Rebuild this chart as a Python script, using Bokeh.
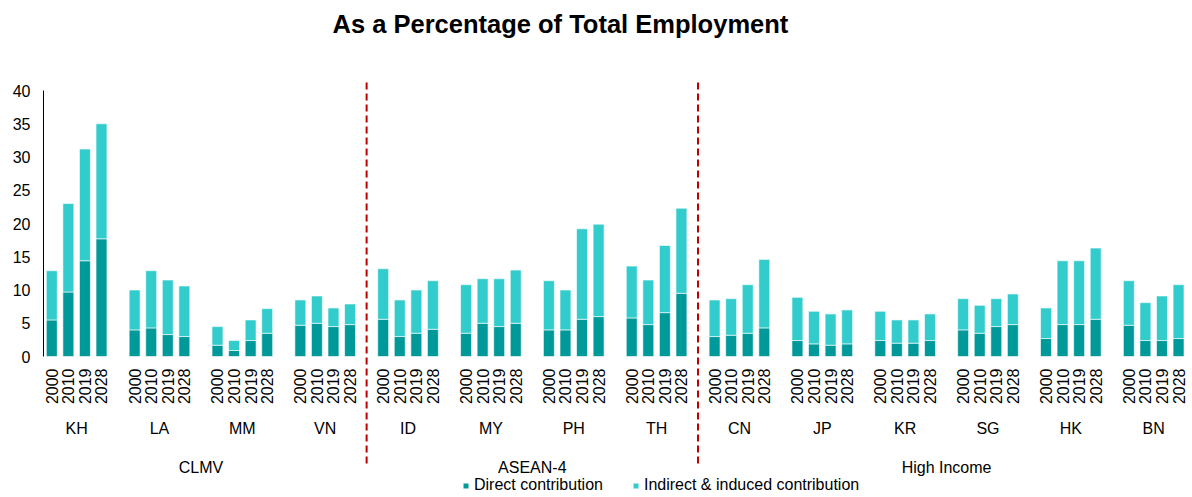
import math
from bokeh.plotting import figure
from bokeh.models import (ColumnDataSource, FixedTicker, Range1d, Legend, Title)
from bokeh.core.properties import value
from bokeh.embed import file_html
from bokeh.resources import INLINE

# ---------------- data ----------------
years = ["2000", "2010", "2019", "2028"]
countries = ["KH", "LA", "MM", "VN", "ID", "MY", "PH", "TH",
             "CN", "JP", "KR", "SG", "HK", "BN"]
groups = ["CLMV", "ASEAN-4", "High Income"]
group_members = [["KH", "LA", "MM", "VN"],
                 ["ID", "MY", "PH", "TH"],
                 ["CN", "JP", "KR", "SG", "HK", "BN"]]

direct = {
    "KH": [5.5, 9.7, 14.4, 17.7],
    "LA": [4.0, 4.3, 3.3, 3.0],
    "MM": [1.7, 0.9, 2.4, 3.5],
    "VN": [4.7, 5.0, 4.5, 4.8],
    "ID": [5.6, 3.0, 3.5, 4.1],
    "MY": [3.5, 5.0, 4.5, 5.0],
    "PH": [4.0, 4.0, 5.6, 6.0],
    "TH": [5.8, 4.8, 6.6, 9.5],
    "CN": [3.0, 3.2, 3.5, 4.3],
    "JP": [2.4, 1.9, 1.7, 1.9],
    "KR": [2.4, 2.0, 2.0, 2.4],
    "SG": [4.0, 3.5, 4.5, 4.8],
    "HK": [2.7, 4.8, 4.8, 5.6],
    "BN": [4.7, 2.4, 2.4, 2.7],
}
indirect = {
    "KH": [7.4, 13.3, 16.8, 17.3],
    "LA": [6.0, 8.6, 8.2, 7.6],
    "MM": [2.8, 1.5, 3.1, 3.7],
    "VN": [3.8, 4.1, 2.8, 3.1],
    "ID": [7.6, 5.5, 6.5, 7.3],
    "MY": [7.3, 6.7, 7.2, 8.0],
    "PH": [7.4, 6.0, 13.6, 13.9],
    "TH": [7.8, 6.7, 10.1, 12.8],
    "CN": [5.5, 5.5, 7.3, 10.3],
    "JP": [6.5, 4.9, 4.7, 5.1],
    "KR": [4.4, 3.5, 3.5, 4.0],
    "SG": [4.7, 4.2, 4.2, 4.6],
    "HK": [4.6, 9.6, 9.6, 10.7],
    "BN": [6.7, 5.7, 6.7, 8.1],
}
y_ticks = [0, 5, 10, 15, 20, 25, 30, 35, 40]

# ---------------- layout ----------------
FONT = "Liberation Sans"
FS = "16px"
W, H = 1192, 497
LEFT = 43            # px left of plotting frame
TOP = 39             # px above plotting frame (title area)
PX_PER_UNIT = 6.65   # vertical scale
ZERO_FROM_TOP = 356  # canvas px of y=0
SLOT_PX = 16.57      # horizontal px per bar slot

y_hi = (ZERO_FROM_TOP - TOP) / PX_PER_UNIT
y_lo = (ZERO_FROM_TOP - H) / PX_PER_UNIT
x_lo = -0.5
x_hi = x_lo + (W - LEFT) / SLOT_PX

SLOTS = len(years) + 1  # 4 bars + 1 gap per country
xs, d_vals, i_vals, year_lab = [], [], [], []
for ci, c in enumerate(countries):
    for yi, y in enumerate(years):
        xs.append(ci * SLOTS + yi)
        d_vals.append(direct[c][yi])
        i_vals.append(indirect[c][yi])
        year_lab.append(y)

src = ColumnDataSource(dict(x=xs, direct=d_vals, indirect=i_vals, year=year_lab))

p = figure(width=W, height=H, output_backend="svg", toolbar_location=None,
           x_range=Range1d(x_lo, x_hi), y_range=Range1d(y_lo, y_hi),
           min_border_left=LEFT, min_border_right=0, min_border_top=TOP,
           min_border_bottom=0)
p.outline_line_color = None
p.xgrid.visible = False
p.ygrid.visible = False
p.xaxis.visible = False
p.background_fill_color = "white"
p.border_fill_color = "white"

# title
p.title = Title(text="As a Percentage of Total Employment", align="left",
                offset=289, standoff=4, text_font=FONT, text_font_style="bold",
                text_font_size="25.5px", text_color="black")

rs = p.vbar_stack(["direct", "indirect"], x="x", width=0.66, source=src,
                  color=["#009999", "#33CCCC"], line_color="white",
                  line_width=1, line_alpha=0.6)

# y axis (line limited to the tick range)
ya = p.yaxis[0]
ya.ticker = FixedTicker(ticks=y_ticks)
ya.bounds = (min(y_ticks), max(y_ticks))
ya.major_label_text_font = FONT
ya.major_label_text_font_size = FS
ya.major_label_text_color = "black"
ya.axis_line_color = "black"
ya.major_tick_line_color = None
ya.minor_tick_line_color = None
ya.major_tick_out = 0
ya.major_label_standoff = 13

# year labels under each bar
p.text(x="x", y=0, text="year", source=src, angle=math.pi / 2,
       y_offset=12, text_align="right", text_baseline="middle",
       text_font=value(FONT), text_font_size=FS, text_color="black")

# country labels
cx = [ci * SLOTS + (len(years) - 1) / 2 for ci in range(len(countries))]
csrc = ColumnDataSource(dict(x=cx, text=countries))
p.text(x="x", y=0, text="text", source=csrc, y_offset=72,
       text_align="center", text_baseline="alphabetic",
       text_font=value(FONT), text_font_size=FS, text_color="black")

# group labels + separators
gx, seps = [], []
for gi, mem in enumerate(group_members):
    first = countries.index(mem[0]) * SLOTS
    last = countries.index(mem[-1]) * SLOTS + len(years) - 1
    gx.append((first + last) / 2)
    if gi > 0:
        seps.append(first - 1)
gsrc = ColumnDataSource(dict(x=gx, text=groups))
p.text(x="x", y=0, text="text", source=gsrc, y_offset=111,
       text_align="center", text_baseline="alphabetic",
       text_font=value(FONT), text_font_size=FS, text_color="black")

SEP_TOP = max(y_ticks) + 8 / PX_PER_UNIT
SEP_BOTTOM = -107 / PX_PER_UNIT
p.segment(x0=seps, y0=[SEP_TOP] * len(seps), x1=seps, y1=[SEP_BOTTOM] * len(seps),
          line_color="#C00000", line_width=2, line_dash="7 4")

# legend
legend = Legend(items=[("Direct contribution", [rs[0]]),
                       ("Indirect & induced contribution", [rs[1]])],
                orientation="horizontal", location=(419, 3),
                padding=0, margin=0, border_line_color=None,
                background_fill_alpha=0, glyph_width=7, glyph_height=7,
                label_standoff=5, spacing=29, label_height=15,
                label_text_font=FONT, label_text_font_size=FS,
                label_text_color="black")
p.add_layout(legend)

open("out.html", "w").write(file_html(p, INLINE))
